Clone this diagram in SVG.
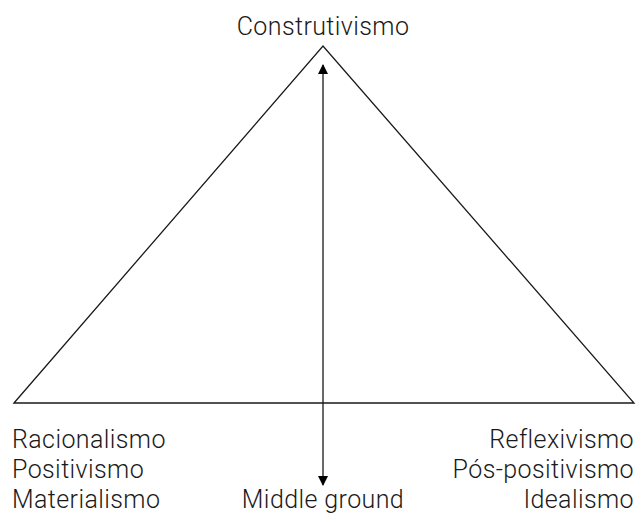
<svg xmlns="http://www.w3.org/2000/svg" width="636" height="514" viewBox="0 0 636 514">
<style>
text{font-family:Roboto,"Liberation Sans",sans-serif;font-weight:300;font-size:25px;letter-spacing:0.4px;fill:#1a1a1a}
.l{fill:none;stroke:#1a1a1a;stroke-width:1.3}
</style>
<defs>
<marker id="ah" viewBox="0 0 10 10" refX="9" refY="5" markerWidth="10" markerHeight="10" markerUnits="userSpaceOnUse" orient="auto-start-reverse"><path d="M0,0 L10,5 L0,10 z" fill="#000"/></marker>
</defs>
<rect width="636" height="514" fill="#fff"/>
<g id="triangle"><path class="l" d="M14,403 L323,46 L634,403 Z"/></g>
<g id="connectors"><line class="l" x1="323" y1="65" x2="323" y2="485" stroke="#000" marker-start="url(#ah)" marker-end="url(#ah)"/></g>
<g id="top"><text x="323" y="35" text-anchor="middle">Construtivismo</text></g>
<g id="left"><text x="12" y="448">Racionalismo</text><text x="12" y="478">Positivismo</text><text x="12" y="508">Materialismo</text></g>
<g id="right" text-anchor="end"><text x="634" y="448">Reflexivismo</text><text x="634" y="478">Pós-positivismo</text><text x="634" y="508">Idealismo</text></g>
<g id="middle"><text x="323" y="508" text-anchor="middle">Middle ground</text></g>
</svg>
